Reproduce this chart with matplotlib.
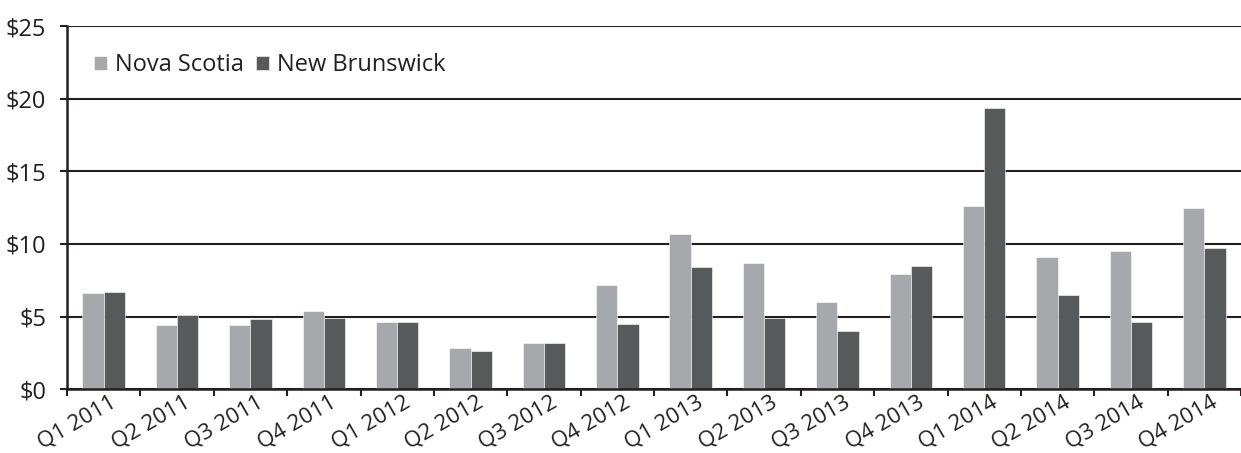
import matplotlib
matplotlib.use("Agg")
import matplotlib.pyplot as plt
import matplotlib.transforms as mtransforms
import numpy as np

categories = ["Q1 2011", "Q2 2011", "Q3 2011", "Q4 2011", "Q1 2012", "Q2 2012",
              "Q3 2012", "Q4 2012", "Q1 2013", "Q2 2013", "Q3 2013", "Q4 2013",
              "Q1 2014", "Q2 2014", "Q3 2014", "Q4 2014"]
nova_scotia = [6.6, 4.4, 4.4, 5.4, 4.6, 2.8, 3.2, 7.2, 10.7, 8.7, 6.0, 7.9, 12.6, 9.1, 9.5, 12.5]
new_brunswick = [6.7, 5.1, 4.8, 4.9, 4.6, 2.6, 3.2, 4.5, 8.4, 4.9, 4.0, 8.5, 19.4, 6.5, 4.6, 9.7]
y_ticks = [0, 5, 10, 15, 20, 25]
y_labels = ["$0", "$5", "$10", "$15", "$20", "$25"]

plt.rcParams['font.family'] = ['Open Sans', 'DejaVu Sans']
TXT = "#231f20"

fig = plt.figure(figsize=(12.41, 4.53), dpi=100)
ax = fig.add_axes([0.054, 0.141, 0.946, 0.801])

x = np.arange(len(categories))
w = 0.29
ax.bar(x - w/2, nova_scotia, w, color="#a7a8ab", edgecolor="white", linewidth=0.4,
       label="Nova Scotia", zorder=3)
ax.bar(x + w/2, new_brunswick, w, color="#58595b", edgecolor="white", linewidth=0.4,
       label="New Brunswick", zorder=3)

ax.set_xlim(-0.5, len(categories) - 0.5)
ax.set_ylim(0, 25)
ax.set_yticks(y_ticks)
ax.set_yticklabels(y_labels, fontsize=17, color=TXT)
ax.yaxis.grid(True, color=TXT, linewidth=1.5, zorder=1)
ax.set_axisbelow(True)

ax.set_xticks(np.arange(len(categories) + 1) - 0.5, minor=False)
ax.set_xticklabels([])
ax.set_xticks(x, minor=True)
ax.set_xticklabels(categories, minor=True, rotation=30, ha="right",
                   rotation_mode="anchor", fontsize=16, color=TXT)
ax.tick_params(axis="x", which="minor", length=0, pad=2)
ax.tick_params(axis="x", which="major", length=5, width=1.5, color=TXT)
ax.tick_params(axis="y", length=5, width=1.5, color=TXT, pad=10)
offset = mtransforms.ScaledTranslation(6/100, 0, fig.dpi_scale_trans)
for lab in ax.get_xticklabels(minor=True):
    lab.set_transform(lab.get_transform() + offset)

for s in ["top", "right"]:
    ax.spines[s].set_visible(False)
for s in ["left", "bottom"]:
    ax.spines[s].set_color(TXT)
    ax.spines[s].set_linewidth(1.8)
    ax.spines[s].set_zorder(4)

leg = ax.legend(loc="upper left", bbox_to_anchor=(0.005, 0.985), frameon=False, fontsize=17,
                ncol=2, handlelength=0.55, handleheight=0.55, handletextpad=0.35,
                columnspacing=0.5)
for t in leg.get_texts():
    t.set_color(TXT)

fig.savefig("out.png", dpi=100)
